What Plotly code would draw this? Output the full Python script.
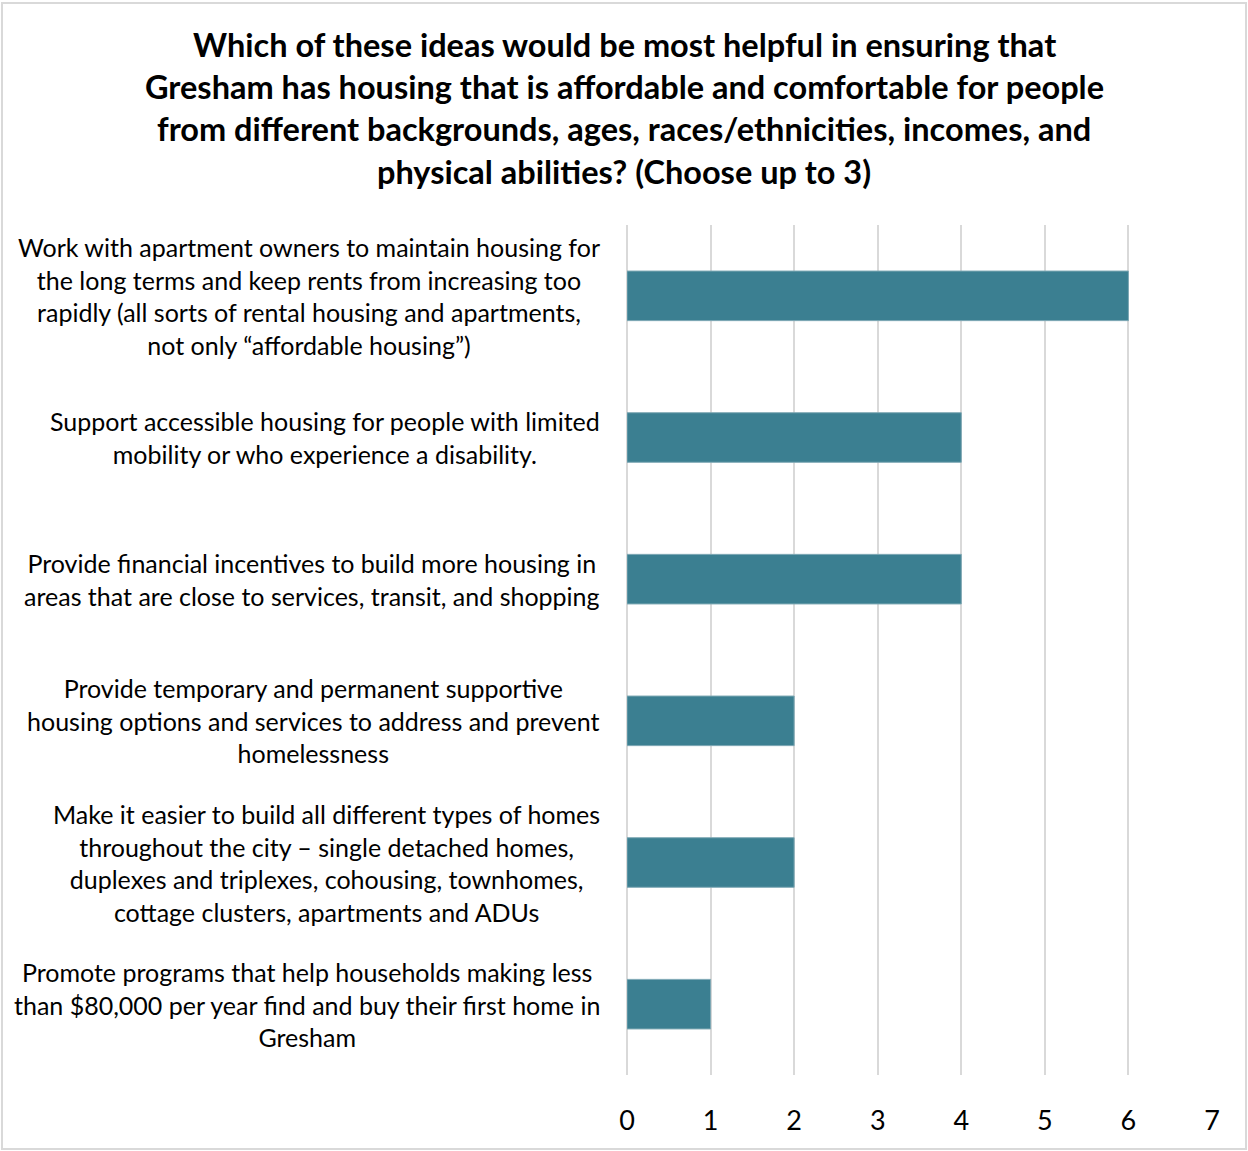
import plotly.graph_objects as go

categories = [
    "Work with apartment owners to maintain housing for<br>the long terms and keep rents from increasing too<br>rapidly (all sorts of rental housing and apartments,<br>not only \u201caffordable housing\u201d)",
    "Support accessible housing for people with limited<br>mobility or who experience a disability.",
    "Provide financial incentives to build more housing in<br>areas that are close to services, transit, and shopping",
    "Provide temporary and permanent supportive<br>housing options and services to address and prevent<br>homelessness",
    "Make it easier to build all different types of homes<br>throughout the city \u2013 single detached homes,<br>duplexes and triplexes, cohousing, townhomes,<br>cottage clusters, apartments and ADUs",
    "Promote programs that help households making less<br>than $80,000 per year find and buy their first home in<br>Gresham",
]
values = [6, 4, 4, 2, 2, 1]
x_ticks = [0, 1, 2, 3, 4, 5, 6, 7]
title_lines = [
    "Which of these ideas would be most helpful in ensuring that",
    "Gresham has housing that is affordable and comfortable for people",
    "from different backgrounds, ages, races/ethnicities, incomes, and",
    "physical abilities? (Choose up to 3)",
]

FONT = "Lato"
W, H = 1248, 1151
ML, MR, MT, MB = 627, 36, 225, 76
PW = W - ML - MR
PH = H - MT - MB

idx = list(range(len(categories)))

fig = go.Figure()
fig.add_trace(go.Bar(
    y=idx, x=values, orientation="h",
    marker=dict(color="#3B7F91", line=dict(color="#7FA9B5", width=1)),
    width=0.35,
    hoverinfo="x",
))

for i, c in enumerate(categories):
    fig.add_annotation(
        x=0, xref="x", xanchor="right", xshift=-25,
        y=i, yref="y", yanchor="middle",
        text=c, align="center", showarrow=False,
        font=dict(family=FONT, size=25, color="#000000"),
    )

title_centers = [44, 86, 128, 171]
for line, cy in zip(title_lines, title_centers):
    fig.add_annotation(
        x=(W / 2 - ML) / PW, xref="paper", xanchor="center",
        y=1, yref="paper", yshift=MT - cy, yanchor="middle",
        text="<b>" + line + "</b>", showarrow=False,
        font=dict(family=FONT, size=32.5, color="#000000"),
    )

fig.update_layout(
    width=W, height=H,
    margin=dict(l=ML, r=MR, t=MT, b=MB),
    paper_bgcolor="white", plot_bgcolor="white",
    showlegend=False,
    xaxis=dict(
        range=[0, 7], tickvals=x_ticks, ticktext=[str(t) for t in x_ticks],
        showgrid=True, gridcolor="#D9D9D9", gridwidth=2,
        zeroline=True, zerolinecolor="#D9D9D9", zerolinewidth=2,
        showline=False, ticks="", ticklabelstandoff=27,
        tickfont=dict(family=FONT, size=27, color="#000000"),
        fixedrange=True,
    ),
    yaxis=dict(
        range=[len(categories) - 0.5, -0.5],
        showticklabels=False, showgrid=False, zeroline=False, ticks="",
        fixedrange=True,
    ),
    shapes=[dict(type="rect", xref="paper", yref="paper",
                 x0=(-ML + 2) / PW, x1=1 + (MR - 2) / PW,
                 y0=-(MB - 2) / PH, y1=1 + (MT - 3) / PH,
                 line=dict(color="#D9D9D9", width=2))],
)

fig.write_html("out.html")
